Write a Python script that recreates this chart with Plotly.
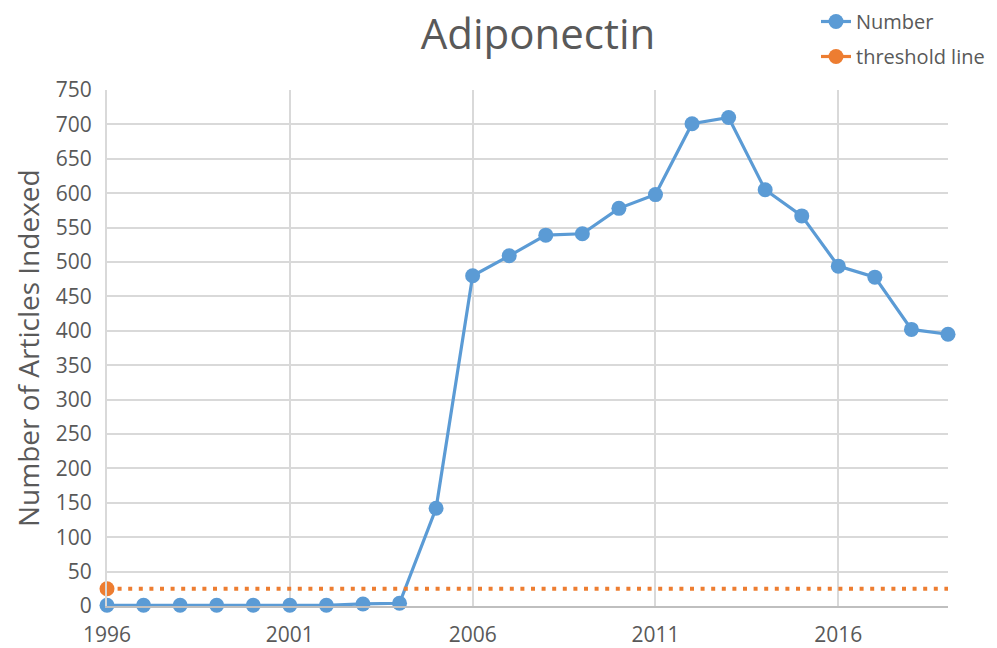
import plotly.graph_objects as go

years = list(range(1996, 2020))
number = [1, 1, 1, 1, 1, 1, 1, 3, 4, 142, 480, 509, 539, 541, 578, 598,
          701, 710, 605, 567, 494, 478, 402, 395]
threshold = [25] * len(years)
x_ticks = [1996, 2001, 2006, 2011, 2016]

BLUE = "#5B9BD5"
ORANGE = "#ED7D31"
TXT = "#595959"
FONT = "Open Sans, DejaVu Sans, sans-serif"

W, H = 997, 648
L, R, T, B = 107, 49, 90, 42

fig = go.Figure()
fig.add_trace(go.Scatter(
    x=years, y=number, name="Number", mode="lines+markers",
    line=dict(color=BLUE, width=3.2), marker=dict(color=BLUE, size=15),
    cliponaxis=False, legendgroup="a"))
fig.add_trace(go.Scatter(
    x=years, y=threshold, name="threshold line", mode="lines",
    line=dict(color=ORANGE, width=4, dash="4px,6.6px"),
    cliponaxis=False, showlegend=False, legendgroup="b"))
fig.add_trace(go.Scatter(
    x=years[:1], y=threshold[:1], name="threshold line", mode="lines+markers",
    line=dict(color=ORANGE, width=3.2), marker=dict(color=ORANGE, size=15),
    cliponaxis=False, legendgroup="b"))

plot_w = W - L - R
fig.add_annotation(
    text="Number of Articles Indexed", textangle=-90,
    xref="paper", yref="paper", x=(28 - L) / plot_w, y=0.5,
    xanchor="center", yanchor="middle", showarrow=False,
    font=dict(size=28, color=TXT, family=FONT))

fig.update_layout(
    width=W, height=H,
    paper_bgcolor="white", plot_bgcolor="white",
    margin=dict(l=L, r=R, t=T, b=B, autoexpand=False),
    font=dict(family=FONT, color=TXT, size=21),
    title=dict(text="Adiponectin", x=538 / W, xanchor="center", xref="container",
               y=1 - 34 / H, yanchor="middle", yref="container",
               font=dict(size=42, color=TXT, family=FONT)),
    showlegend=True,
    legend=dict(x=816 / W, xanchor="left", xref="container",
                y=1 - 2 / H, yanchor="top", yref="container",
                font=dict(size=20, color=TXT), tracegroupgap=6,
                traceorder="grouped", bgcolor="rgba(0,0,0,0)", borderwidth=0),
    xaxis=dict(range=[1996, 2019], tickvals=x_ticks, showgrid=True,
               gridcolor="#D9D9D9", gridwidth=2, showline=True,
               linecolor="#BFBFBF", linewidth=2, zeroline=False,
               ticks="", ticklabelstandoff=9, tickfont=dict(size=21, color=TXT)),
    yaxis=dict(range=[0, 750], dtick=50, showgrid=True, gridcolor="#D9D9D9",
               gridwidth=2, showline=True, linecolor="#D9D9D9", linewidth=2,
               zeroline=False, ticks="", ticklabelstandoff=9,
               tickfont=dict(size=21, color=TXT)),
)

fig.write_html("out.html", config={"displayModeBar": False},
               post_script="document.body.style.margin='0';")
